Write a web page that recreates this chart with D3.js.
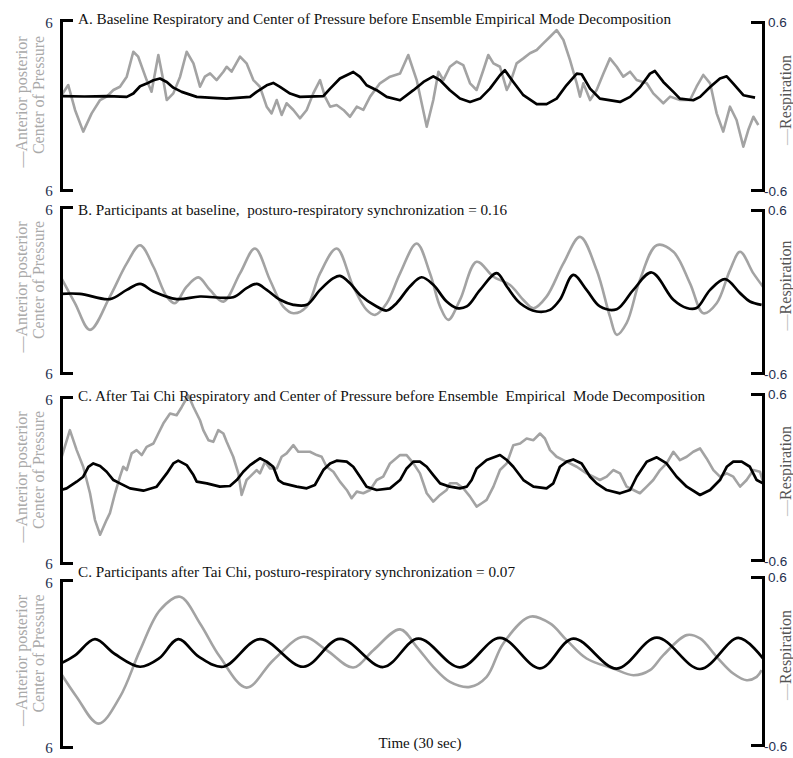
<!DOCTYPE html>
<html>
<head>
<meta charset="utf-8">
<script src="https://cdn.jsdelivr.net/npm/d3@7"></script>
<style>
  html, body { margin: 0; padding: 0; background: #fff; }
  svg { display: block; }
</style>
</head>
<body>
<svg id="chart" width="793" height="758"></svg>
<script>
// ---------------- DATA ----------------
const timeDomain = [0, 30];
const copDomain = [-6, 6];
const respDomain = [-0.6, 0.6];
const copTickLabels = ["6", "6"];        // top, bottom (as printed)
const respTickLabels = ["0.6", "-0.6"];  // top, bottom
const xAxisLabel = "Time (30 sec)";
const copLabelLines = ["\u2014Anterior posterior", "Center of Pressure"];
const respLabel = "\u2014Respiration";

const titles = [
  "A. Baseline Respiratory and Center of Pressure before Ensemble Empirical Mode Decomposition",
  "B. Participants at baseline,  posturo-respiratory synchronization = 0.16",
  "C. After Tai Chi Respiratory and Center of Pressure before Ensemble  Empirical  Mode Decomposition",
  "C. Participants after Tai Chi, posturo-respiratory synchronization = 0.07"
];

// Panel A – raw center of pressure (gray) [time s, value]
const copA = [[0.03,0.70],[0.31,1.41],[0.60,-0.35],[0.95,-1.88],[1.31,-0.59],[1.67,0.35],[1.95,0.59],[2.24,1.06],[2.52,1.29],[2.81,2.00],[3.09,3.76],[3.30,3.41],[3.66,1.76],[3.87,0.94],[4.16,3.53],[4.37,1.76],[4.52,0.35],[4.80,0.82],[5.09,2.0],[5.37,3.76],[5.66,2.94],[5.94,1.29],[6.15,2.0],[6.37,2.23],[6.65,1.76],[6.94,2.35],[7.08,2.70],[7.29,2.35],[7.65,3.41],[7.93,2.94],[8.22,1.76],[8.50,1.29],[8.79,-0.12],[9.00,-0.59],[9.22,0.35],[9.43,-0.70],[9.64,0.12],[9.93,-0.35],[10.21,-0.94],[10.50,-0.35],[10.78,0.82],[11.07,1.76],[11.28,0.59],[11.50,-0.12],[11.78,0],[12.07,-0.35],[12.35,-0.83],[12.64,-0.12],[12.92,-0.35],[13.21,0.59],[13.63,1.53],[14.06,2.0],[14.49,2.23],[14.84,3.53],[15.20,1.76],[15.63,-1.53],[15.91,0.35],[16.13,2.35],[16.34,1.76],[16.62,2.70],[16.91,3.06],[17.19,2.82],[17.48,1.53],[17.76,1.06],[18.05,2.47],[18.26,3.53],[18.48,2.94],[18.76,2.70],[19.05,1.06],[19.19,1.53],[19.47,2.94],[19.76,3.29],[20.04,3.65],[20.33,3.88],[20.61,4.35],[20.90,4.82],[21.18,5.29],[21.47,4.59],[21.75,3.18],[22.04,1.53],[22.18,0.59],[22.32,1.53],[22.61,0.35],[22.89,1.06],[23.18,2.23],[23.46,3.29],[23.75,2.70],[24.03,2.0],[24.32,2.35],[24.60,1.76],[25.03,1.53],[25.31,0.82],[25.74,0.12],[26.03,0.59],[26.45,0.35],[26.88,0.35],[27.16,1.29],[27.45,2.12],[27.74,1.53],[28.02,-0.59],[28.30,-1.88],[28.59,-0.12],[28.87,-1.06],[29.16,-2.94],[29.37,-1.77],[29.59,-0.83],[29.80,-1.41]];
// Panel A – raw respiration (black)
const respA = [[0,0.07],[1.0,0.068],[2.0,0.07],[2.81,0.065],[3.09,0.089],[3.38,0.141],[3.66,0.160],[3.95,0.184],[4.23,0.196],[4.52,0.172],[4.80,0.131],[5.16,0.101],[5.80,0.065],[6.5,0.058],[7.08,0.053],[8.08,0.065],[8.36,0.101],[8.79,0.148],[9.07,0.165],[9.36,0.136],[9.79,0.089],[10.21,0.065],[11.21,0.07],[11.50,0.124],[11.92,0.196],[12.49,0.243],[12.78,0.208],[13.06,0.148],[13.49,0.113],[13.92,0.065],[14.49,0.041],[15.06,0.113],[15.49,0.172],[15.91,0.212],[16.20,0.184],[16.62,0.113],[17.05,0.053],[17.48,0.029],[17.91,0.053],[18.33,0.124],[18.76,0.220],[18.97,0.255],[19.33,0.172],[19.76,0.077],[20.33,0.013],[20.75,0.013],[21.18,0.053],[21.60,0.148],[22.04,0.231],[22.25,0.227],[22.61,0.124],[23.03,0.053],[23.89,0.029],[24.32,0.065],[24.75,0.136],[25.17,0.231],[25.38,0.25],[25.74,0.172],[26.17,0.101],[26.45,0.053],[27.02,0.041],[27.31,0.065],[27.74,0.136],[28.16,0.196],[28.45,0.212],[28.73,0.160],[29.16,0.077],[29.66,0.060]];

// Panel B – decomposed CoP (gray)
const copB = [[0,0.91],[0.60,-0.96],[1.24,-2.88],[2.09,-0.48],[2.81,1.92],[3.38,3.24],[3.95,1.68],[4.52,-0.48],[4.87,-0.96],[5.37,0.24],[5.87,0.91],[6.37,0.0],[6.94,-0.84],[7.65,1.2],[8.29,3.0],[8.93,0.72],[9.50,-1.2],[9.93,-1.68],[10.50,-1.2],[11.07,1.2],[11.78,3.0],[12.49,0.24],[13.06,-1.44],[13.42,-1.8],[13.92,-0.96],[14.49,1.2],[15.20,3.36],[15.77,1.2],[16.20,-1.2],[16.55,-2.16],[17.05,-0.72],[17.76,2.04],[18.48,0.96],[19.19,0.36],[19.76,-0.72],[20.19,-1.32],[20.75,-0.48],[21.47,1.92],[22.18,3.84],[22.89,1.44],[23.46,-1.92],[23.75,-3.24],[24.17,-2.4],[24.74,0.72],[25.46,3.24],[26.17,2.76],[26.88,0.48],[27.45,-1.68],[28.02,-0.96],[28.59,1.44],[29.02,2.76],[29.59,1.2],[30.0,0.24]];
// Panel B – decomposed respiration (black)
const respB = [[0,-0.017],[0.81,-0.017],[2.09,-0.056],[2.81,0.012],[3.38,0.056],[3.95,0.0],[4.94,-0.056],[5.94,-0.037],[7.36,-0.042],[7.93,0.025],[8.36,0.056],[8.79,0.012],[9.36,-0.061],[9.93,-0.098],[10.50,-0.098],[11.07,0.012],[11.64,0.098],[11.92,0.115],[12.35,0.061],[12.78,-0.025],[13.49,-0.110],[13.92,-0.140],[14.34,-0.086],[14.91,0.037],[15.41,0.105],[15.91,0.049],[16.48,-0.074],[16.91,-0.122],[17.34,-0.110],[17.91,0.012],[18.62,0.135],[19.05,0.037],[19.62,-0.086],[20.33,-0.147],[20.90,-0.135],[21.32,-0.061],[21.89,0.122],[22.46,0.012],[23.03,-0.110],[23.75,-0.130],[24.46,0.012],[25.24,0.140],[26.17,-0.061],[26.74,-0.122],[27.16,-0.122],[27.74,0.012],[28.38,0.091],[29.02,-0.012],[29.44,-0.074],[29.94,-0.098]];

// Panel C – raw CoP after Tai Chi (gray)
const copC = [[0.03,1.68],[0.38,3.6],[0.67,2.16],[0.95,0.96],[1.24,-0.96],[1.45,-2.88],[1.67,-3.96],[1.95,-2.88],[2.09,-2.4],[2.31,-0.96],[2.52,0.24],[2.66,0.96],[2.81,0.72],[3.02,1.92],[3.23,2.16],[3.45,1.8],[3.66,2.4],[3.95,2.64],[4.16,3.36],[4.37,4.08],[4.66,4.8],[4.94,4.68],[5.16,5.28],[5.44,6.12],[5.66,5.28],[5.94,4.32],[6.08,3.6],[6.30,2.88],[6.51,2.76],[6.72,3.6],[6.94,3.36],[7.08,2.76],[7.36,1.68],[7.58,0.48],[7.72,-1.08],[7.93,0.0],[8.08,0.24],[8.36,0.72],[8.50,0.48],[8.72,1.32],[8.93,0.84],[9.22,0.84],[9.43,1.68],[9.64,1.92],[9.93,2.52],[10.14,2.04],[10.36,2.04],[10.64,2.04],[10.93,1.8],[11.14,1.68],[11.35,0.96],[11.64,0.6],[11.92,-0.12],[12.21,-0.72],[12.42,-1.32],[12.64,-0.84],[12.92,-0.96],[13.21,-0.72],[13.49,0.0],[13.77,0.24],[14.06,1.2],[14.49,1.8],[14.77,1.8],[15.06,1.2],[15.34,0.48],[15.63,-0.96],[15.91,-1.56],[16.20,-1.08],[16.48,-0.72],[16.62,-0.24],[16.91,-0.24],[17.19,-0.6],[17.48,-1.2],[17.76,-1.92],[17.98,-1.68],[18.19,-1.44],[18.48,-0.48],[18.76,0.72],[19.05,1.2],[19.33,2.52],[19.62,2.64],[19.90,3.0],[20.19,2.88],[20.47,3.36],[20.68,3.0],[20.90,2.16],[21.18,1.68],[21.47,1.44],[21.75,1.2],[22.04,0.96],[22.46,0.48],[22.75,0.24],[23.03,0.0],[23.32,0.24],[23.60,0.72],[23.89,0.48],[24.17,-0.48],[24.46,-0.72],[24.74,-0.96],[25.03,-0.48],[25.31,0.0],[25.60,0.72],[25.88,1.2],[26.17,2.04],[26.45,1.44],[26.74,1.68],[27.02,2.04],[27.31,2.28],[27.59,1.56],[27.88,0.72],[28.16,0.24],[28.45,0.48],[28.73,0.24],[29.02,-0.48],[29.30,0.0],[29.59,0.72],[29.87,0.6],[30.0,-0.12]];
// Panel C – raw respiration after Tai Chi (black)
const respC = [[0,-0.094],[0.24,-0.082],[0.67,-0.034],[0.95,0.002],[1.17,0.074],[1.38,0.098],[1.67,0.079],[1.95,0.038],[2.24,-0.022],[2.52,-0.046],[2.95,-0.082],[3.52,-0.099],[4.09,-0.070],[4.52,0.026],[4.80,0.098],[5.01,0.118],[5.37,0.086],[5.66,0.014],[5.80,-0.034],[6.23,-0.046],[6.79,-0.070],[7.22,-0.065],[7.51,-0.022],[7.79,0.038],[8.08,0.086],[8.50,0.135],[8.79,0.111],[9.07,0.074],[9.29,-0.022],[9.50,-0.046],[10.07,-0.070],[10.50,-0.082],[10.85,-0.058],[11.21,0.050],[11.50,0.098],[11.78,0.118],[12.21,0.111],[12.49,0.074],[12.78,0.002],[13.06,-0.070],[13.49,-0.094],[14.06,-0.082],[14.49,-0.022],[14.77,0.062],[15.06,0.111],[15.34,0.111],[15.63,0.074],[15.91,0.014],[16.20,-0.046],[16.62,-0.070],[17.05,-0.082],[17.34,-0.070],[17.55,-0.022],[17.76,0.062],[18.19,0.123],[18.76,0.159],[19.05,0.123],[19.33,0.074],[19.76,-0.022],[20.19,-0.070],[20.75,-0.082],[21.04,-0.046],[21.32,0.074],[21.61,0.111],[21.89,0.127],[22.25,0.098],[22.61,0.002],[22.89,-0.046],[23.32,-0.094],[23.89,-0.118],[24.32,-0.094],[24.60,0.002],[25.03,0.111],[25.46,0.142],[25.88,0.098],[26.31,0.002],[26.74,-0.070],[27.31,-0.130],[27.74,-0.094],[28.16,-0.022],[28.45,0.074],[28.73,0.111],[29.09,0.111],[29.44,0.074],[29.73,-0.022],[30.0,-0.046]];

// Panel D – decomposed CoP after Tai Chi (gray)
const copD = [[0,-0.72],[0.67,-2.4],[1.60,-4.32],[2.52,-2.4],[3.38,0.96],[4.23,3.84],[5.09,4.8],[5.94,2.88],[6.79,0.48],[7.93,-1.73],[9.07,0.24],[10.36,1.92],[11.35,0.96],[12.49,-0.29],[13.35,0.96],[14.49,2.45],[15.20,1.2],[15.91,-0.24],[16.62,-1.32],[17.48,-1.68],[18.19,-0.96],[18.90,1.44],[20.04,3.36],[20.90,2.88],[21.61,1.68],[22.46,0.36],[23.60,-0.36],[24.46,-0.84],[25.17,-0.48],[25.74,0.6],[26.74,2.04],[27.31,1.8],[28.02,0.48],[28.73,-0.72],[29.30,-1.2],[29.73,-0.96],[29.94,-0.48]];
// Panel D – decomposed respiration after Tai Chi (black)
const respD = [[0,-0.017],[0.6,0.04],[1.45,0.156],[2.3,0.05],[3.38,-0.041],[4.2,0.02],[5.01,0.156],[5.9,0.03],[6.94,-0.041],[8.50,0.156],[10.36,-0.041],[11.92,0.158],[13.77,-0.043],[15.27,0.160],[17.05,-0.045],[18.76,0.165],[20.47,-0.052],[21.89,0.160],[23.75,-0.054],[25.46,0.167],[27.31,-0.057],[28.95,0.165],[30.0,0.018]];

const panels = [
  { title: titles[0], cop: copA, resp: respA, smooth: false },
  { title: titles[1], cop: copB, resp: respB, smooth: true },
  { title: titles[2], cop: copC, resp: respC, smooth: false },
  { title: titles[3], cop: copD, resp: respD, smooth: true }
];

// ---------------- LAYOUT ----------------
const xLeft = 61, xRight = 763;
const frames = [
  { lTop: 20,  lBot: 190, rTop: 22,  rBot: 190, titleY: 24 },
  { lTop: 207, lBot: 373, rTop: 210, rBot: 373, titleY: 215 },
  { lTop: 397, lBot: 563, rTop: 394, rBot: 560, titleY: 401 },
  { lTop: 580, lBot: 747, rTop: 577, rBot: 745, titleY: 577 }
];

const svg = d3.select("#chart");
const x = d3.scaleLinear().domain(timeDomain).range([xLeft, xRight]);
const serif = "'Liberation Serif','Times New Roman',serif";
const sans = "'Liberation Sans',Arial,sans-serif";

panels.forEach((p, i) => {
  const f = frames[i];
  const yL = d3.scaleLinear().domain(copDomain).range([f.lBot, f.lTop]);
  const yR = d3.scaleLinear().domain(respDomain).range([f.rBot, f.rTop]);
  const g = svg.append("g");

  const curve = p.smooth ? d3.curveCatmullRom.alpha(0.5) : d3.curveLinear;

  // gray CoP line
  g.append("path")
    .datum(p.cop)
    .attr("fill", "none")
    .attr("stroke", "#a3a3a3")
    .attr("stroke-width", 2.6)
    .attr("stroke-linejoin", "round")
    .attr("d", d3.line().x(d => x(d[0])).y(d => yL(d[1])).curve(curve));

  // black respiration line
  g.append("path")
    .datum(p.resp)
    .attr("fill", "none")
    .attr("stroke", "#000")
    .attr("stroke-width", 2.7)
    .attr("stroke-linejoin", "round")
    .attr("d", d3.line().x(d => x(d[0])).y(d => yR(d[1])).curve(curve));

  // left bracket axis
  const la = g.append("g").attr("transform", `translate(${xLeft},0)`)
    .call(d3.axisRight(yL).tickValues([]).tickSizeOuter(12));
  la.select(".domain").attr("stroke", "#000").attr("stroke-width", 3);

  // right bracket axis
  const ra = g.append("g").attr("transform", `translate(${xRight},0)`)
    .call(d3.axisLeft(yR).tickValues([]).tickSizeOuter(12));
  ra.select(".domain").attr("stroke", "#000").attr("stroke-width", 3);

  // left tick labels
  g.selectAll("text.lt").data(copDomain.slice().reverse()).enter().append("text")
    .attr("x", 49).attr("y", (d, j) => yL(d) + (j === 0 ? 8 : 6))
    .attr("text-anchor", "middle")
    .attr("font-family", serif).attr("font-size", 15)
    .attr("fill", "#1f2f4f")
    .text((d, j) => copTickLabels[j]);

  // right tick labels
  g.selectAll("text.rt").data(respDomain.slice().reverse()).enter().append("text")
    .attr("x", (d, j) => j === 0 ? 768 : 764)
    .attr("y", (d, j) => yR(d) + (j === 0 ? 5 : 6))
    .attr("font-family", sans).attr("font-size", 13.5)
    .attr("fill", "#1f2f4f")
    .text((d, j) => respTickLabels[j]);

  // title
  g.append("text")
    .attr("x", 78).attr("y", f.titleY)
    .attr("font-family", serif).attr("font-size", 15.2)
    .attr("fill", "#111")
    .attr("xml:space", "preserve")
    .style("white-space", "pre")
    .text(p.title);

  // left rotated label
  const cy = (f.lTop + f.lBot) / 2;
  g.append("text")
    .attr("transform", `translate(27,${cy - 3}) rotate(-90)`)
    .attr("text-anchor", "middle")
    .attr("font-family", serif).attr("font-size", 16)
    .attr("fill", "#a9a9a9")
    .text(copLabelLines[0]);
  g.append("text")
    .attr("transform", `translate(44,${cy - 10}) rotate(-90)`)
    .attr("text-anchor", "middle")
    .attr("font-family", serif).attr("font-size", 16)
    .attr("fill", "#a9a9a9")
    .text(copLabelLines[1]);

  // right rotated label
  const cyr = (f.rTop + f.rBot) / 2;
  const rl = g.append("text")
    .attr("transform", `translate(791,${cyr - 6}) rotate(-90)`)
    .attr("text-anchor", "middle")
    .attr("font-family", serif).attr("font-size", 16)
    .attr("fill", "#555");
  rl.append("tspan").attr("fill", "#bbb").text(respLabel.charAt(0));
  rl.append("tspan").text(respLabel.slice(1));
});

// x axis label
svg.append("text")
  .attr("x", 420).attr("y", 748)
  .attr("text-anchor", "middle")
  .attr("font-family", serif).attr("font-size", 15)
  .attr("fill", "#111")
  .text(xAxisLabel);
</script>
</body>
</html>
